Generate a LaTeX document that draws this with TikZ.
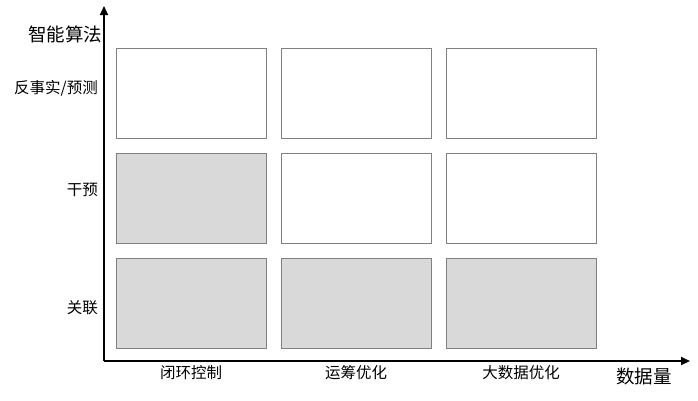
\documentclass[tikz,border=0pt]{standalone}
\usepackage{fontspec}
\setmainfont{Noto Sans CJK SC}
\usetikzlibrary{arrows.meta}
\begin{document}
\begin{tikzpicture}[x=1pt,y=-1pt,
  cell/.style={draw=black!50,line width=0.9pt,minimum width=150pt,minimum height=90pt,inner sep=0pt,anchor=north west},
  shaded/.style={cell,fill=black!15},
  blank/.style={cell,fill=white},
  axis/.style={line width=2pt,-{Triangle[length=9pt,width=8pt]}},
  lab/.style={font=\fontsize{15.5}{17}\selectfont,inner sep=0pt},
  big/.style={font=\fontsize{18.5}{20}\selectfont,inner sep=0pt}]
\useasboundingbox (0,0) rectangle (698,400);
\coordinate (o) at (104,361);
\coordinate (yt) at (104,6);
\coordinate (xt) at (690,361);
\draw[axis] (o) -- (yt);
\draw[axis] (o) -- (xt);
\node[blank] (a1) at (116,48) {};
\node[blank] (a2) at (281,48) {};
\node[blank] (a3) at (446,48) {};
\node[shaded] (b1) at (116,153) {};
\node[blank] (b2) at (281,153) {};
\node[blank] (b3) at (446,153) {};
\node[shaded] (c1) at (116,258) {};
\node[shaded] (c2) at (281,258) {};
\node[shaded] (c3) at (446,258) {};
\node[big] (ylab) at (65,34) {智能算法};
\node[big] (xlab) at (644,376) {数据量};
\node[lab,anchor=east] (r1) at (98,88) {反事实/预测};
\node[lab,anchor=east] (r2) at (98,190) {干预};
\node[lab,anchor=east] (r3) at (98,308) {关联};
\node[lab] (k1) at (191,373) {闭环控制};
\node[lab] (k2) at (356,373) {运筹优化};
\node[lab] (k3) at (521,373) {大数据优化};
\end{tikzpicture}
\end{document}
